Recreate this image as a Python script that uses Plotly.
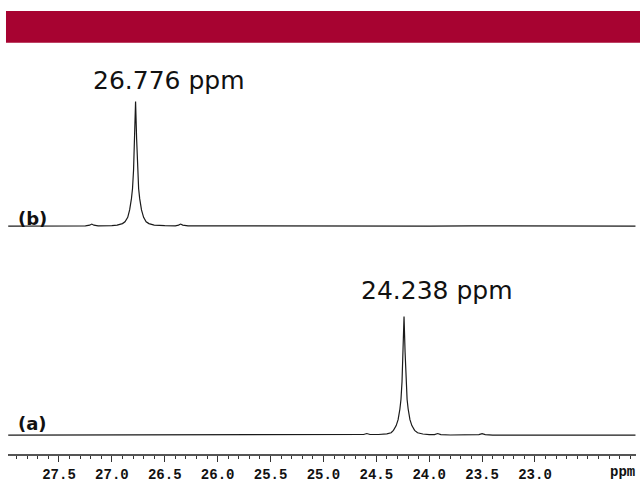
import plotly.graph_objects as go

# ---- data (ppm vs normalised intensity) ----
PPM_B = [27.98, 27.70, 27.40, 27.25, 27.21, 27.19, 27.17, 27.13, 27.00, 26.95,
         26.90, 26.876, 26.85, 26.832, 26.815, 26.805, 26.795, 26.786, 26.776,
         26.766, 26.757, 26.747, 26.737, 26.72, 26.70, 26.676, 26.65, 26.60,
         26.50, 26.40, 26.37, 26.35, 26.33, 26.28, 26.00, 25.60, 25.20, 24.80,
         24.40, 24.00, 23.60, 23.20, 22.80, 22.40, 22.05]
INT_B = [0.0, 0.1, 0.0, 0.2, 0.7, 1.6, 0.7, 0.2, 0.4, 0.8,
         2.0, 3.5, 7.0, 13.0, 22.0, 30.0, 45.0, 70.0, 100.0,
         70.0, 45.0, 30.0, 22.0, 13.0, 7.0, 3.5, 2.0, 0.8,
         0.3, 0.2, 0.8, 1.6, 0.8, 0.2, 0.1, 0.0, 0.1, 0.0,
         0.1, 0.0, 0.1, 0.0, 0.1, 0.0, 0.0]

PPM_A = [27.98, 27.50, 27.00, 26.50, 26.00, 25.50, 25.00, 24.70, 24.62, 24.59,
         24.56, 24.48, 24.40, 24.36, 24.338, 24.312, 24.294, 24.277, 24.267,
         24.257, 24.248, 24.238, 24.228, 24.219, 24.209, 24.199, 24.182, 24.164,
         24.138, 24.11, 24.06, 24.00, 23.95, 23.92, 23.89, 23.80, 23.60, 23.53,
         23.50, 23.47, 23.40, 23.00, 22.60, 22.05]
INT_A = [0.0, 0.1, 0.0, 0.1, 0.0, 0.1, 0.0, 0.2, 0.5, 1.3,
         0.5, 0.5, 1.0, 2.0, 4.0, 8.0, 13.0, 22.0, 30.0,
         45.0, 70.0, 100.0, 70.0, 45.0, 30.0, 22.0, 13.0, 8.0,
         4.0, 2.0, 0.9, 0.4, 0.4, 1.3, 0.4, 0.1, 0.1, 0.4,
         1.2, 0.4, 0.0, 0.1, 0.0, 0.0]

PEAK_PPM = [24.238, 26.776]
PEAK_TEXT = ["24.238 ppm", "26.776 ppm"]
TRACE_LABELS = ["(a)", "(b)"]

TICK_VALS = [27.5, 27.0, 26.5, 26.0, 25.5, 25.0, 24.5, 24.0, 23.5, 23.0]
TICK_TEXT = ["27.5", "27.0", "26.5", "26.0", "25.5", "25.0", "24.5", "24.0", "23.5", "23.0"]
AXIS_UNIT = "ppm"

LINE = dict(color="#1a1a1a", width=1.2)

fig = go.Figure()
fig.add_trace(go.Scatter(x=PPM_A, y=INT_A, mode="lines", line=LINE,
                         xaxis="x", yaxis="y", hoverinfo="skip"))
fig.add_trace(go.Scatter(x=PPM_B, y=INT_B, mode="lines", line=LINE,
                         xaxis="x", yaxis="y2", hoverinfo="skip"))

fig.update_layout(
    width=640, height=483,
    margin=dict(l=8, r=4, t=0, b=26),
    paper_bgcolor="white", plot_bgcolor="white",
    showlegend=False,
    xaxis=dict(
        range=[27.982, 22.045], showgrid=False, zeroline=False,
        showline=True, linecolor="#555555", linewidth=1.5,
        ticks="outside", ticklen=6, tickwidth=1, tickcolor="#333333",
        tickmode="array", tickvals=TICK_VALS, ticktext=TICK_TEXT,
        tickfont=dict(family="Liberation Mono", size=14, color="#111111", weight="bold"),
        minor=dict(ticks="outside", ticklen=3, tickwidth=1, tickcolor="#333333",
                   tick0=0, dtick=0.1, showgrid=False),
        anchor="free", position=0,
    ),
    yaxis=dict(domain=[0, 0.5], range=[-16.8, 175.2], visible=False),
    yaxis2=dict(domain=[0.4, 1], range=[-37.7, 181.6], visible=False, anchor="x"),
)

# red banner
fig.add_shape(type="rect", xref="paper", yref="paper",
              x0=-0.0032, x1=1.0064, y0=0.9059, y1=0.9759,
              fillcolor="#a70331", line=dict(width=0), layer="above")

# peak labels
for ppm, txt, yref, ys in zip(PEAK_PPM, PEAK_TEXT, ["y", "y2"], [26, 21]):
    fig.add_annotation(x=ppm, y=100, xref="x", yref=yref, text=txt,
                       showarrow=False, xshift=33, yshift=ys, yanchor="middle",
                       font=dict(family="DejaVu Sans", size=25, color="#111111"))

# trace labels
for lab, yref, ys in zip(TRACE_LABELS, ["y", "y2"], [12, 8]):
    fig.add_annotation(x=27.746, y=0, xref="x", yref=yref, text=lab,
                       showarrow=False, yshift=ys, yanchor="middle",
                       font=dict(family="DejaVu Sans", size=18, color="#111111",
                                 weight="bold"))

# axis unit
fig.add_annotation(x=22.17, y=0, xref="x", yref="paper", text=AXIS_UNIT,
                   showarrow=False, yshift=-17, yanchor="middle",
                   font=dict(family="Liberation Mono", size=14, color="#111111",
                             weight="bold"))

fig.write_html(
    "out.html",
    config={"displayModeBar": False},
    post_script="document.body.style.margin='0';document.body.style.padding='0';"
                "document.body.style.overflow='hidden';",
)
